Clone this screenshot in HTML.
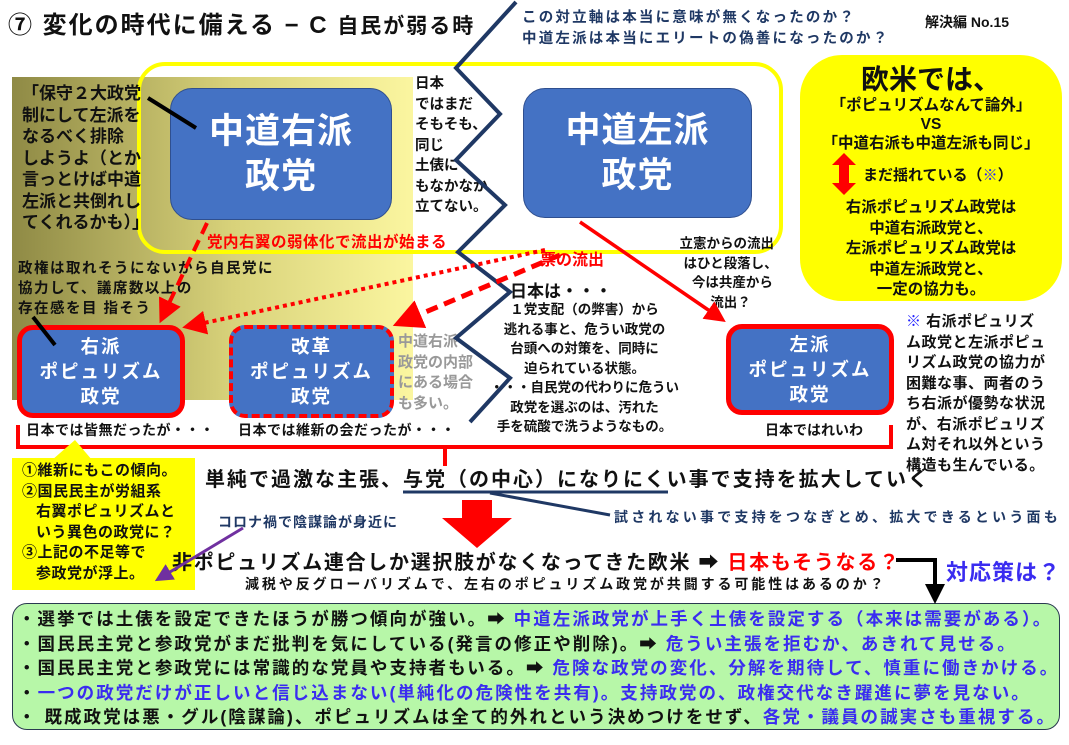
<!DOCTYPE html>
<html><head><meta charset="utf-8"><style>
body{margin:0;width:1069px;height:745px;background:#fff;position:relative;overflow:hidden;font-family:"Liberation Sans","Noto Sans CJK JP",sans-serif;font-weight:bold;color:#111}
.a{position:absolute;white-space:nowrap}
.box{position:absolute;background:#4472c4;color:#fff;text-align:center;display:flex;align-items:center;justify-content:center;box-sizing:border-box}
.nv{color:#1f3864}
.r{color:#f00}
.b{color:#3a2cf0}
</style></head><body>
<div class="a" style="left:12px;top:77px;width:401px;height:323px;background:linear-gradient(90deg,#8f8a45,#d8d27a 55%,#fbf6a0)"></div>
<div class="a" style="left:137px;top:62px;width:646px;height:192px;border:4px solid #ffff00;border-radius:28px;box-sizing:border-box"></div>
<div class="a" style="left:8px;top:5px;font-size:24px;letter-spacing:2px">⑦ 変化の時代に備える − C <span style="font-size:21px">自民が弱る時</span></div>
<div class="a nv" style="left:522px;top:8px;font-size:14.5px;line-height:21px;letter-spacing:2.2px">この対立軸は本当に意味が無くなったのか？<br>中道左派は本当にエリートの偽善になったのか？</div>
<div class="a" style="left:925px;top:12px;font-size:14px">解決編 No.15</div>

<div class="box" style="left:170px;top:88px;width:222px;height:132px;border-radius:22px;border:1.5px solid #2f4f8f;font-size:35px;line-height:45px;letter-spacing:1px">中道右派<br>政党</div>
<div class="box" style="left:523px;top:88px;width:229px;height:130px;border-radius:22px;border:1.5px solid #2f4f8f;font-size:35px;line-height:45px;letter-spacing:1px">中道左派<br>政党</div>

<div class="a" style="left:22px;top:83px;font-size:17px;line-height:21.5px">「保守２大政党<br>制にして左派を<br>なるべく排除<br>しようよ（とか<br>言っとけば中道<br>左派と共倒れし<br>てくれるかも）」</div>
<div class="a" style="left:415px;top:74px;font-size:14.5px;line-height:20.5px">日本<br>ではまだ<br>そもそも、<br>同じ<br>土俵に<br>もなかなか<br>立てない。</div>
<div class="a r" style="left:207px;top:230px;font-size:15.5px;letter-spacing:0.5px">党内右翼の弱体化で流出が始まる</div>
<div class="a" style="left:18px;top:259px;font-size:14.5px;line-height:20px;letter-spacing:1.5px">政権は取れそうにないから自民党に<br>協力して、議席数以上の<br>存在感を目 指そう</div>

<div class="box" style="left:17px;top:325px;width:168px;height:93px;border-radius:16px;border:5px solid #f00;font-size:18.5px;line-height:25px;letter-spacing:2px">右派<br>ポピュリズム<br>政党</div>
<div class="box" style="left:229px;top:325px;width:165px;height:93px;border-radius:16px;border:4px dashed #f00;font-size:18.5px;line-height:25px;letter-spacing:2px">改革<br>ポピュリズム<br>政党</div>
<div class="box" style="left:726px;top:324px;width:168px;height:91px;border-radius:16px;border:5px solid #f00;font-size:18.5px;line-height:25px;letter-spacing:2px">左派<br>ポピュリズム<br>政党</div>
<div class="a" style="left:398px;top:332px;font-size:15px;line-height:20.5px;color:#999">中道右派<br>政党の内部<br>にある場合<br>も多い。</div>

<div class="a r" style="left:540px;top:246px;font-size:16px">票の流出</div>
<div class="a" style="left:676px;top:234px;font-size:13.5px;line-height:19.5px;text-align:center">立憲からの流出<br>&nbsp;&nbsp;はひと段落し、<br>&nbsp;&nbsp;&nbsp;今は共産から<br>&nbsp;&nbsp;流出？</div>
<div class="a" style="left:510px;top:277px;font-size:17px">日本は・・・</div>
<div class="a" style="left:490px;top:300px;font-size:13.5px;line-height:19.5px;text-align:center">１党支配（の弊害）から<br>逃れる事と、危うい政党の<br>台頭への対策を、同時に<br>迫られている状態。<br>・・・自民党の代わりに危うい<br>政党を選ぶのは、汚れた<br>手を硫酸で洗うようなもの。</div>

<div class="a" style="left:800px;top:55px;width:262px;height:246px;background:#ffff00;border-radius:42px"></div>
<div class="a" style="left:800px;top:58px;width:262px;text-align:center;font-size:28px">欧米では、</div>
<div class="a" style="left:800px;top:96px;width:262px;text-align:center;font-size:15.5px;line-height:19px">「ポピュリズムなんて論外」<br>VS<br>「中道右派も中道左派も同じ」</div>
<div class="a" style="left:863px;top:164px;font-size:15px">まだ揺れている（<span style="color:#22f">※</span>）</div>
<div class="a" style="left:800px;top:198px;width:262px;text-align:center;font-size:15.5px;line-height:20.5px">右派ポピュリズム政党は<br>中道右派政党と、<br>左派ポピュリズム政党は<br>中道左派政党と、<br>一定の協力も。</div>
<div class="a" style="left:906px;top:312px;font-size:15px;line-height:20.5px;letter-spacing:0.5px"><span style="color:#22f">※</span> 右派ポピュリズ<br>ム政党と左派ポピュ<br>リズム政党の協力が<br>困難な事、両者のう<br>ち右派が優勢な状況<br>が、右派ポピュリズ<br>ム対それ以外という<br>構造も生んでいる。</div>

<div class="a" style="left:26px;top:420px;font-size:14px;letter-spacing:0.5px">日本では皆無だったが・・・</div>
<div class="a" style="left:238px;top:420px;font-size:14px;letter-spacing:0.5px">日本では維新の会だったが・・・</div>
<div class="a" style="left:765px;top:420px;font-size:14px">日本ではれいわ</div>

<div class="a" style="left:12px;top:458px;width:183px;height:132px;background:#ffff00"></div>
<div class="a" style="left:22px;top:461px;font-size:15px;line-height:20.5px;letter-spacing:0.5px">①維新にもこの傾向。<br>②国民民主が労組系<br>&nbsp;&nbsp;&nbsp;右翼ポピュリズムと<br>&nbsp;&nbsp;&nbsp;いう異色の政党に？<br>③上記の不足等で<br>&nbsp;&nbsp;&nbsp;参政党が浮上。</div>

<div class="a" style="left:205px;top:463px;font-size:20px;letter-spacing:2px">単純で過激な主張、与党（の中心）になりにくい事で支持を拡大していく</div>
<div class="a nv" style="left:614px;top:507px;font-size:14px;letter-spacing:3.2px">試されない事で支持をつなぎとめ、拡大できるという面も</div>
<div class="a nv" style="left:218px;top:512px;font-size:14px;letter-spacing:1px">コロナ禍で陰謀論が身近に</div>
<div class="a" style="left:172px;top:546px;font-size:20px;letter-spacing:1.7px">非ポピュリズム連合しか選択肢がなくなってきた欧米 ➡ <span class="r">日本もそうなる？</span></div>
<div class="a" style="left:946px;top:555px;font-size:22px;color:#3a2cf0;letter-spacing:1px">対応策は？</div>
<div class="a" style="left:245px;top:574px;font-size:14px;letter-spacing:2.9px">減税や反グローバリズムで、左右のポピュリズム政党が共闘する可能性はあるのか？</div>

<div class="a" style="left:12px;top:603px;width:1048px;height:127px;background:#b7f7a8;border:1.5px solid #2a3a50;border-radius:15px;box-sizing:border-box"></div>
<div class="a" style="left:18px;top:607px;font-size:17.5px;line-height:24.5px;letter-spacing:2.05px">・選挙では土俵を設定できたほうが勝つ傾向が強い。➡ <span class="b">中道左派政党が上手く土俵を設定する（本来は需要がある）。</span><br>・国民民主党と参政党がまだ批判を気にしている(発言の修正や削除)。➡ <span class="b">危うい主張を拒むか、あきれて見せる。</span><br>・国民民主党と参政党には常識的な党員や支持者もいる。➡ <span class="b">危険な政党の変化、分解を期待して、慎重に働きかける。</span><br>・<span class="b">一つの政党だけが正しいと信じ込まない(単純化の危険性を共有)。支持政党の、政権交代なき躍進に夢を見ない。</span><br>・ 既成政党は悪・グル(陰謀論)、ポピュリズムは全て的外れという決めつけをせず、<span class="b">各党・議員の誠実さも重視する。</span></div>

<svg class="a" style="left:0;top:0" width="1069" height="745">
<defs>
<marker id="ar" markerWidth="6" markerHeight="6" refX="4" refY="3" orient="auto" markerUnits="strokeWidth"><path d="M0,0L6,3L0,6z" fill="#f00"/></marker>
<marker id="pr" markerWidth="6" markerHeight="6" refX="4" refY="3" orient="auto" markerUnits="strokeWidth"><path d="M0,0L6,3L0,6z" fill="#7030a0"/></marker>
<marker id="bk" markerWidth="5" markerHeight="5" refX="3" refY="2.5" orient="auto" markerUnits="strokeWidth"><path d="M0,0L5,2.5L0,5z" fill="#000"/></marker>
</defs>
<polyline points="516,2 456,68 500,114 456,160 505,205 458,252 510,292 456,338 510,378 470,422" fill="none" stroke="#1f3864" stroke-width="4"/>
<line x1="148" y1="98" x2="196" y2="128" stroke="#000" stroke-width="4"/>
<line x1="33" y1="317" x2="55" y2="345" stroke="#000" stroke-width="4"/>
<line x1="207" y1="223" x2="163" y2="316" stroke="#f00" stroke-width="4" stroke-dasharray="12,7" marker-end="url(#ar)"/>
<line x1="545" y1="250" x2="190" y2="326" stroke="#f00" stroke-width="4" stroke-dasharray="4,4" marker-end="url(#ar)"/>
<line x1="560" y1="255" x2="402" y2="322" stroke="#f00" stroke-width="5" stroke-dasharray="12,7" marker-end="url(#ar)"/>
<line x1="580" y1="222" x2="720" y2="318" stroke="#f00" stroke-width="3.5" marker-end="url(#ar)"/>
<path d="M844,153 L856,165 L849,165 L849,183 L856,183 L844,195 L832,183 L839,183 L839,165 L832,165 Z" fill="#f00"/>
<polyline points="18,425 18,447 891,447 891,425" fill="none" stroke="#f00" stroke-width="4"/>
<line x1="445" y1="447" x2="445" y2="466" stroke="#f00" stroke-width="4"/>
<polygon points="52,460 75,440 92,460" fill="#ffff00"/>
<line x1="403" y1="492" x2="668" y2="492" stroke="#1f3864" stroke-width="3"/>
<line x1="490" y1="493" x2="610" y2="515" stroke="#1f3864" stroke-width="3"/>
<polygon points="462,500 492,500 492,518 512,518 477,548 442,518 462,518" fill="#f00"/>
<line x1="243" y1="528" x2="160" y2="578" stroke="#7030a0" stroke-width="3" marker-end="url(#pr)"/>
<polyline points="896,560 935,560 935,596" fill="none" stroke="#000" stroke-width="4" marker-end="url(#bk)"/>
</svg>
</body></html>
